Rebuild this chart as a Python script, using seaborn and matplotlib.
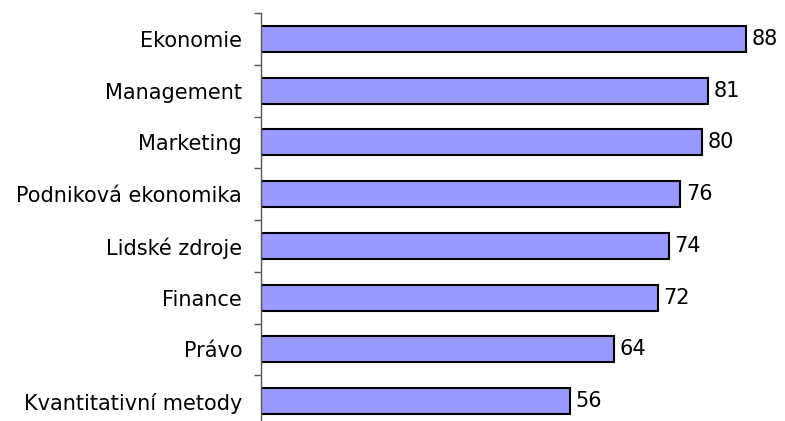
import seaborn as sns
import matplotlib.pyplot as plt
import numpy as np
import pandas as pd

# data
categories = ['Ekonomie', 'Management', 'Marketing', 'Podniková ekonomika',
              'Lidské zdroje', 'Finance', 'Právo', 'Kvantitativní metody']
values = [88, 81, 80, 76, 74, 72, 64, 56]

df = pd.DataFrame({'obor': categories, 'hodnota': values})

sns.set_style('white')
plt.rcParams['font.family'] = ['DejaVu Sans']
plt.rcParams['text.color'] = 'black'
plt.rcParams['ytick.labelcolor'] = 'black'

fig = plt.figure(figsize=(7.85, 4.21), dpi=100)
ax = fig.add_axes([261 / 785, -6 / 421, 524 / 785, 414 / 421])

sns.barplot(data=df, x='hodnota', y='obor', orient='h', color='#9999FF',
            saturation=1, width=0.5, edgecolor='black', linewidth=1.5, ax=ax)

for c in ax.containers:
    ax.bar_label(c, fmt='%d', padding=4, fontsize=15, color='black')

ax.set_xlim(0, 95)
ax.set_ylim(len(categories) - 0.5, -0.5)
ax.set_xlabel('')
ax.set_ylabel('')
ax.set_xticks([])

# labels at the bar centres, tick marks between categories
ax.set_yticks(np.arange(len(categories)), labels=categories, minor=True)
ax.set_yticks(np.arange(len(categories) + 1) - 0.5, labels=[])
ax.tick_params(axis='y', which='minor', length=0, labelsize=15, pad=13.5,
               labelcolor='black')
ax.tick_params(axis='y', which='major', length=5, width=1, color='#555555', left=True)

for s in ['top', 'right', 'bottom']:
    ax.spines[s].set_visible(False)
ax.spines['left'].set_color('#555555')
ax.spines['left'].set_linewidth(1)

fig.savefig('out.png', dpi=100)
